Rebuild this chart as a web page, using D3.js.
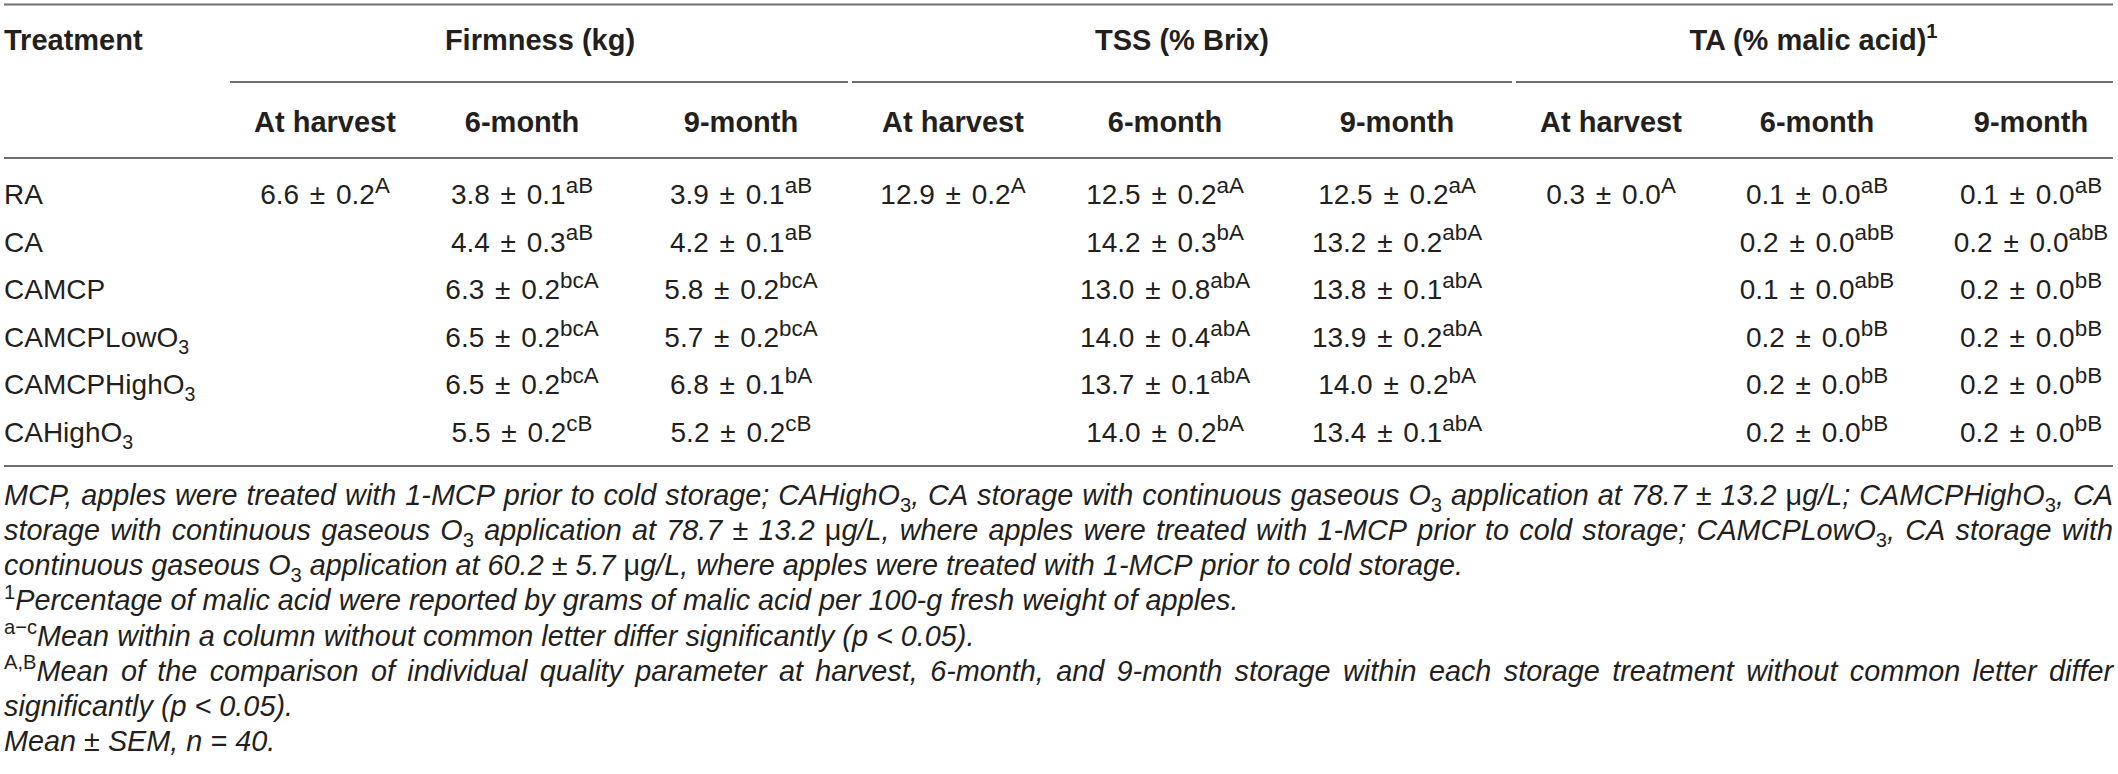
<!DOCTYPE html>
<html>
<head>
<meta charset="utf-8">
<script src="https://cdn.jsdelivr.net/npm/d3@7"></script>
<style>
  body { margin: 0; background: #fff; }
  text { font-family: "Liberation Sans", Arial, sans-serif; }
</style>
</head>
<body>
<div id="table"></div>
<script>
//    data
// markup: _{..} subscript, ^{..} superscript, !{..} upright
var treatments = ['RA', 'CA', 'CAMCP', 'CAMCPLowO_{3}', 'CAMCPHighO_{3}', 'CAHighO_{3}'];
var groups = ['Firmness (kg)', 'TSS (% Brix)', 'TA (% malic acid)^{1}'];
var periods = ['At harvest', '6-month', '9-month'];

// rows = treatments, columns = periods
var firmMean = [[6.6, 3.8, 3.9], [null, 4.4, 4.2], [null, 6.3, 5.8], [null, 6.5, 5.7], [null, 6.5, 6.8], [null, 5.5, 5.2]];
var firmSem = [[0.2, 0.1, 0.1], [null, 0.3, 0.1], [null, 0.2, 0.2], [null, 0.2, 0.2], [null, 0.2, 0.1], [null, 0.2, 0.2]];
var firmLetter = [['A', 'aB', 'aB'], [null, 'aB', 'aB'], [null, 'bcA', 'bcA'], [null, 'bcA', 'bcA'], [null, 'bcA', 'bA'], [null, 'cB', 'cB']];

var tssMean = [[12.9, 12.5, 12.5], [null, 14.2, 13.2], [null, 13.0, 13.8], [null, 14.0, 13.9], [null, 13.7, 14.0], [null, 14.0, 13.4]];
var tssSem = [[0.2, 0.2, 0.2], [null, 0.3, 0.2], [null, 0.8, 0.1], [null, 0.4, 0.2], [null, 0.1, 0.2], [null, 0.2, 0.1]];
var tssLetter = [['A', 'aA', 'aA'], [null, 'bA', 'abA'], [null, 'abA', 'abA'], [null, 'abA', 'abA'], [null, 'abA', 'bA'], [null, 'bA', 'abA']];

var taMean = [[0.3, 0.1, 0.1], [null, 0.2, 0.2], [null, 0.1, 0.2], [null, 0.2, 0.2], [null, 0.2, 0.2], [null, 0.2, 0.2]];
var taSem = [[0.0, 0.0, 0.0], [null, 0.0, 0.0], [null, 0.0, 0.0], [null, 0.0, 0.0], [null, 0.0, 0.0], [null, 0.0, 0.0]];
var taLetter = [['A', 'aB', 'aB'], [null, 'abB', 'abB'], [null, 'abB', 'bB'], [null, 'bB', 'bB'], [null, 'bB', 'bB'], [null, 'bB', 'bB']];

// footnote lines as broken in the original; true = justified
var noteLines = [
  'MCP, apples were treated with 1-MCP prior to cold storage; CAHighO_{3}, CA storage with continuous gaseous O_{3} application at 78.7 ± 13.2 !{μ}g/L; CAMCPHighO_{3}, CA',
  'storage with continuous gaseous O_{3} application at 78.7 ± 13.2 !{μ}g/L, where apples were treated with 1-MCP prior to cold storage; CAMCPLowO_{3}, CA storage with',
  'continuous gaseous O_{3} application at 60.2 ± 5.7 !{μ}g/L, where apples were treated with 1-MCP prior to cold storage.',
  '^{1}Percentage of malic acid were reported by grams of malic acid per 100-g fresh weight of apples.',
  '^{a−c}Mean within a column without common letter differ significantly (p < 0.05).',
  '^{A,B}Mean of the comparison of individual quality parameter at harvest, 6-month, and 9-month storage within each storage treatment without common letter differ',
  'significantly (p < 0.05).',
  'Mean ± SEM, n = 40.'
];
var noteJustify = [true, true, false, false, false, true, false, false];

//    layout
var width = 2118, height = 774;
var left = 4, right = 2113;
var colCenters = [325, 522, 741, 953, 1165, 1397, 1611, 1817, 2031];
var groupEdges = [230, 850, 1514, 2113];
var fs = 28, hfs = 29, nfs = 28.8;
var ink = '#231f20', rule = '#6d6e71';

var x = d3.scaleLinear().domain(d3.range(colCenters.length)).range(colCenters);
var y = d3.scalePoint().domain(treatments).range([204, 442]);
var yNote = d3.scaleLinear().domain([0, noteLines.length - 1]).range([505, 751]);

function parse(str) {
  var out = [], re = /([_^!])\{([^}]*)\}/g, last = 0, m;
  while ((m = re.exec(str)) !== null) {
    if (m.index > last) out.push({k: 'n', t: str.slice(last, m.index)});
    out.push({k: m[1] == '_' ? 'sub' : m[1] == '^' ? 'sup' : 'up', t: m[2]});
    last = re.lastIndex;
  }
  if (last < str.length) out.push({k: 'n', t: str.slice(last)});
  return out;
}

function rich(sel, str, size, italic, supScale) {
  var shift = 0;
  supScale = supScale || 0.7;
  parse(str).forEach(function(p) {
    var target = p.k == 'sup' ? -0.4 * size : p.k == 'sub' ? 0.25 * size : 0;
    var ts = sel.append('tspan').attr('dy', target - shift).text(p.t);
    if (p.k == 'sup') ts.style('font-size', (supScale * size) + 'px');
    if (p.k == 'sub') ts.style('font-size', (0.7 * size) + 'px');
    if (italic && p.k != 'n') ts.style('font-style', 'normal');
    shift = target;
  });
  return sel;
}

//    svg
var svg = d3.select('#table')
  .append('svg')
  .attr('width', width)
  .attr('height', height);

// rules
[4.5, 158, 466].forEach(function(yy) {
  svg.append('line')
    .attr('x1', left).attr('x2', right)
    .attr('y1', yy).attr('y2', yy)
    .attr('stroke', rule).attr('stroke-width', 1.8);
});
svg.selectAll('.gline')
  .data(groups)
  .enter()
  .append('line')
  .attr('class', 'gline')
  .attr('x1', function(d, i) { return groupEdges[i] + (i ? 2 : 0); })
  .attr('x2', function(d, i) { return groupEdges[i + 1] - (i < 2 ? 2 : 0); })
  .attr('y1', 82).attr('y2', 82)
  .attr('stroke', rule).attr('stroke-width', 1.8);

// header
svg.append('text')
  .attr('x', left).attr('y', 50)
  .attr('font-size', hfs).attr('font-weight', 'bold').attr('fill', ink)
  .text('Treatment');

svg.selectAll('.group')
  .data(groups)
  .enter()
  .append('text')
  .attr('class', 'group')
  .attr('x', function(d, i) { return (groupEdges[i] + groupEdges[i + 1]) / 2; })
  .attr('y', 50)
  .attr('text-anchor', 'middle')
  .attr('font-size', hfs).attr('font-weight', 'bold').attr('fill', ink)
  .each(function(d) { rich(d3.select(this), d, hfs); });

var subs = [];
groups.forEach(function(g, gi) {
  periods.forEach(function(p, pi) { subs.push({col: gi * 3 + pi, label: p}); });
});
svg.selectAll('.sub')
  .data(subs)
  .enter()
  .append('text')
  .attr('class', 'sub')
  .attr('x', function(d) { return x(d.col); })
  .attr('y', 132)
  .attr('text-anchor', 'middle')
  .attr('font-size', hfs).attr('font-weight', 'bold').attr('fill', ink)
  .text(function(d) { return d.label; });

// body
svg.selectAll('.treat')
  .data(treatments)
  .enter()
  .append('text')
  .attr('class', 'treat')
  .attr('x', left)
  .attr('y', function(d) { return y(d); })
  .attr('font-size', fs).attr('fill', ink)
  .each(function(d) { rich(d3.select(this), d, fs); });

var cells = [];
[[firmMean, firmSem, firmLetter], [tssMean, tssSem, tssLetter], [taMean, taSem, taLetter]].forEach(function(set, gi) {
  treatments.forEach(function(t, ri) {
    periods.forEach(function(p, pi) {
      var m = set[0][ri][pi];
      if (m == null) return;
      cells.push({
        col: gi * 3 + pi,
        row: t,
        str: m.toFixed(1) + ' ± ' + set[1][ri][pi].toFixed(1) + '^{' + set[2][ri][pi] + '}'
      });
    });
  });
});

svg.selectAll('.cell')
  .data(cells)
  .enter()
  .append('text')
  .attr('class', 'cell')
  .attr('x', function(d) { return x(d.col); })
  .attr('y', function(d) { return y(d.row); })
  .attr('text-anchor', 'middle')
  .attr('word-spacing', 3)
  .attr('font-size', fs).attr('fill', ink)
  .each(function(d) { rich(d3.select(this), d.str, fs, false, 0.8); });

//    footnotes (word by word so lines can be justified)
var probe = svg.append('text').attr('font-size', nfs).attr('font-style', 'italic');
function measure(str) {
  probe.selectAll('*').remove();
  probe.text(null);
  rich(probe, str, nfs, true);
  return probe.node().getComputedTextLength();
}
var spaceW = measure('a a') - measure('aa');

noteLines.forEach(function(line, li) {
  var words = line.split(' ').map(function(w) { return {w: w, len: measure(w)}; });
  var total = d3.sum(words, function(d) { return d.len; });
  var gap = noteJustify[li] ? (right - left - total) / (words.length - 1) : spaceW;
  var pos = left;
  words.forEach(function(d) { d.x = pos; pos += d.len + gap; });

  svg.append('g')
    .attr('class', 'note')
    .selectAll('text')
    .data(words)
    .enter()
    .append('text')
    .attr('x', function(d) { return d.x; })
    .attr('y', yNote(li))
    .attr('font-size', nfs).attr('font-style', 'italic').attr('fill', ink)
    .each(function(d) { rich(d3.select(this), d.w, nfs, true); });
});
probe.remove();
</script>
</body>
</html>
